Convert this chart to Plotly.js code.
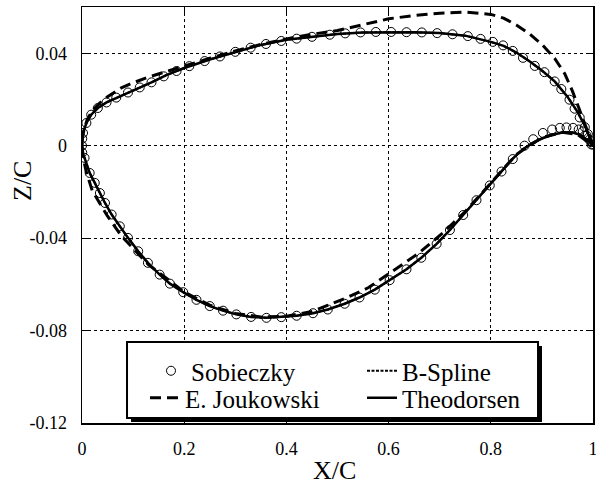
<!DOCTYPE html>
<html><head><meta charset="utf-8">
<script src="https://cdn.plot.ly/plotly-3.0.1.min.js"></script>
<style>html,body{margin:0;padding:0;background:#fff}#chart{width:596px;height:485px}</style>
</head><body><div id="chart"></div><script>
// Theodorsen (solid)
var theoUpperX = [0, 0.0005, 0.002, 0.0086, 0.018, 0.031, 0.048, 0.067, 0.09, 0.113, 0.136, 0.165, 0.2, 0.25, 0.3, 0.35, 0.4, 0.45, 0.5, 0.55, 0.6, 0.65, 0.7, 0.75, 0.8, 0.825, 0.85, 0.875, 0.9, 0.925, 0.95, 0.97, 0.985, 0.995, 1.0];
var theoUpperZ = [0, 0.003, 0.0055, 0.0098, 0.0134, 0.0163, 0.0187, 0.0208, 0.023, 0.0252, 0.0274, 0.0305, 0.0336, 0.0373, 0.0406, 0.0436, 0.0458, 0.0471, 0.0483, 0.049, 0.0492, 0.0491, 0.0487, 0.0476, 0.0449, 0.0432, 0.0403, 0.0366, 0.0325, 0.0278, 0.0212, 0.0145, 0.0082, 0.003, 0.0];
var theoLowerX = [0, 0.0005, 0.005, 0.015, 0.025, 0.035, 0.045, 0.058, 0.074, 0.09, 0.11, 0.129, 0.152, 0.172, 0.198, 0.224, 0.25, 0.276, 0.302, 0.331, 0.361, 0.39, 0.42, 0.452, 0.481, 0.514, 0.543, 0.573, 0.602, 0.635, 0.664, 0.694, 0.72, 0.746, 0.772, 0.798, 0.821, 0.843, 0.863, 0.883, 0.9, 0.92, 0.94, 0.96, 0.975, 0.99, 1.0];
var theoLowerZ = [0, -0.003, -0.0053, -0.0118, -0.0161, -0.0205, -0.0248, -0.0298, -0.0349, -0.0399, -0.0457, -0.0507, -0.0558, -0.0597, -0.0634, -0.0667, -0.0694, -0.0714, -0.073, -0.0741, -0.0745, -0.0742, -0.0736, -0.0725, -0.0709, -0.0684, -0.0657, -0.0623, -0.0582, -0.0535, -0.0485, -0.0425, -0.0365, -0.03, -0.0236, -0.0172, -0.0114, -0.0056, -0.0015, 0.0013, 0.0031, 0.0047, 0.0057, 0.0057, 0.0047, 0.0022, 0];

// B-Spline (dotted) – coincides with Theodorsen
var bsplUpperX = theoUpperX, bsplUpperZ = theoUpperZ;
var bsplLowerX = theoLowerX, bsplLowerZ = theoLowerZ;

// Sobieczky (circles)
var sobUpperX = [0, 0.0005, 0.002, 0.0086, 0.018, 0.031, 0.048, 0.067, 0.09, 0.113, 0.136, 0.16, 0.185, 0.21, 0.24, 0.27, 0.3, 0.33, 0.36, 0.39, 0.42, 0.45, 0.485, 0.515, 0.545, 0.575, 0.605, 0.635, 0.665, 0.695, 0.725, 0.755, 0.78, 0.804, 0.824, 0.843, 0.863, 0.886, 0.905, 0.925, 0.938, 0.954, 0.964, 0.974, 0.984, 0.99, 0.997, 1.0];
var sobUpperZ = [0, 0.003, 0.0055, 0.0098, 0.0134, 0.0163, 0.0187, 0.0208, 0.023, 0.0252, 0.0274, 0.03, 0.0323, 0.0344, 0.0366, 0.0386, 0.0406, 0.0424, 0.044, 0.0453, 0.0463, 0.0471, 0.048, 0.0486, 0.049, 0.0492, 0.0492, 0.0491, 0.049, 0.0487, 0.0482, 0.0474, 0.0462, 0.0449, 0.0434, 0.041, 0.038, 0.0345, 0.0318, 0.0278, 0.0245, 0.0199, 0.016, 0.0122, 0.008, 0.005, 0.0015, 0.0005];
var sobLowerX = [0.0005, 0.005, 0.015, 0.025, 0.035, 0.045, 0.058, 0.074, 0.09, 0.11, 0.129, 0.152, 0.172, 0.198, 0.224, 0.25, 0.276, 0.302, 0.331, 0.361, 0.39, 0.42, 0.452, 0.481, 0.514, 0.543, 0.573, 0.602, 0.635, 0.664, 0.694, 0.72, 0.746, 0.772, 0.798, 0.821, 0.843, 0.866, 0.883, 0.902, 0.92, 0.935, 0.948, 0.961, 0.972, 0.98, 0.987, 0.993, 0.997];
var sobLowerZ = [-0.003, -0.0053, -0.0118, -0.0161, -0.0205, -0.0248, -0.0298, -0.0349, -0.0399, -0.0457, -0.0507, -0.0558, -0.0597, -0.0634, -0.0667, -0.0694, -0.0714, -0.073, -0.0741, -0.0745, -0.0742, -0.0736, -0.0725, -0.0709, -0.0684, -0.0657, -0.0623, -0.0582, -0.0535, -0.0485, -0.0425, -0.0365, -0.03, -0.0236, -0.0172, -0.0112, -0.0058, 0.0, 0.0028, 0.0055, 0.007, 0.0077, 0.0079, 0.0077, 0.007, 0.0062, 0.0045, 0.0026, 0.0005];

// E. Joukowski (dashed)
var joukUpperX = [0, 0.001, 0.004, 0.01, 0.02, 0.035, 0.05, 0.077, 0.1, 0.13, 0.165, 0.2, 0.25, 0.3, 0.35, 0.4, 0.45, 0.5, 0.55, 0.6, 0.65, 0.7, 0.75, 0.8, 0.825, 0.85, 0.875, 0.9, 0.925, 0.945, 0.96, 0.975, 0.99, 1.0];
var joukUpperZ = [0, 0.0035, 0.007, 0.0112, 0.0152, 0.0185, 0.0212, 0.025, 0.0272, 0.0297, 0.0322, 0.0345, 0.0378, 0.041, 0.0438, 0.0462, 0.0482, 0.0498, 0.0524, 0.0549, 0.0563, 0.0573, 0.0578, 0.0568, 0.0552, 0.0522, 0.0485, 0.0438, 0.0378, 0.031, 0.0235, 0.015, 0.006, 0];
var joukLowerX = [0, 0.001, 0.003, 0.008, 0.02, 0.035, 0.05, 0.077, 0.1, 0.13, 0.16, 0.2, 0.25, 0.3, 0.35, 0.4, 0.45, 0.478, 0.52, 0.56, 0.615, 0.658, 0.706, 0.75, 0.8, 0.85, 0.9, 0.94, 0.97, 1.0];
var joukLowerZ = [0, -0.003, -0.006, -0.011, -0.0195, -0.025, -0.0305, -0.039, -0.0445, -0.0515, -0.0565, -0.0633, -0.069, -0.0726, -0.0741, -0.0738, -0.0718, -0.0692, -0.0656, -0.0615, -0.0533, -0.0467, -0.0378, -0.0285, -0.0162, -0.0038, 0.0035, 0.0058, 0.0048, 0];

var xTickVals = [0, 0.2, 0.4, 0.6, 0.8, 1];
var xTickText = ['0', '0.2', '0.4', '0.6', '0.8', '1'];
var yTickVals = [-0.12, -0.08, -0.04, 0, 0.04];
var yTickText = ['-0.12', '-0.08', '-0.04', '0', '0.04'];

function loop(ux, uz, lx, lz) {
  return {
    x: ux.slice().reverse().concat(lx.slice(1)),
    y: uz.slice().reverse().concat(lz.slice(1))
  };
}
var sob = loop(sobUpperX, sobUpperZ, [0].concat(sobLowerX), [0].concat(sobLowerZ));
var theo = loop(theoUpperX, theoUpperZ, theoLowerX, theoLowerZ);
var bspl = loop(bsplUpperX, bsplUpperZ, bsplLowerX, bsplLowerZ);
var jouk = loop(joukUpperX, joukUpperZ, joukLowerX, joukLowerZ);

var FONT = 'Liberation Serif, Times New Roman, serif';

var traces = [
  {name: 'Sobieczky', legend: 'legend', x: sob.x, y: sob.y, mode: 'markers', type: 'scatter',
   marker: {symbol: 'circle-open', size: 9, color: '#000', line: {width: 1, color: '#000'}}},
  {name: 'B-Spline', legend: 'legend', x: bspl.x, y: bspl.y, mode: 'lines', type: 'scatter',
   line: {color: '#000', width: 2, dash: '3px,1.5px'}},
  {name: 'E. Joukowski', legend: 'legend2', x: jouk.x, y: jouk.y, mode: 'lines', type: 'scatter',
   line: {color: '#000', width: 3, dash: '11px,6px'}},
  {name: 'Theodorsen', legend: 'legend2', x: theo.x, y: theo.y, mode: 'lines', type: 'scatter',
   line: {color: '#000', width: 2.5}}
];

var axisCommon = {
  showline: true, linecolor: '#000', linewidth: 1.5, mirror: 'ticks',
  ticks: 'inside', ticklen: 7, tickwidth: 1, tickcolor: '#000',
  showgrid: true, gridcolor: '#000', gridwidth: 1, griddash: '3px,3px',
  zeroline: false, automargin: false, ticklabeloverflow: 'allow',
  tickfont: {family: FONT, size: 18, color: '#000'},
  tickmode: 'array'
};

var legendCommon = {
  orientation: 'h', xanchor: 'left', yanchor: 'middle',
  bgcolor: 'rgba(0,0,0,0)', borderwidth: 0,
  font: {family: FONT, size: 25, color: '#000'},
  entrywidthmode: 'pixels', tracegroupgap: 0
};

var layout = {
  width: 596, height: 485,
  margin: {l: 82, r: 3, t: 7, b: 62, autoexpand: false},
  paper_bgcolor: '#fff', plot_bgcolor: '#fff',
  font: {family: FONT, color: '#000'},
  xaxis: Object.assign({}, axisCommon, {range: [0, 1], tickvals: xTickVals, ticktext: xTickText, ticklabelstandoff: 9}),
  yaxis: Object.assign({}, axisCommon, {range: [-0.12, 0.06], tickvals: yTickVals, ticktext: yTickText, ticklabelstandoff: 10}),
  showlegend: true,
  legend: Object.assign({}, legendCommon, {x: (151 - 82) / 511, y: (423 - 371) / 416, entrywidth: 166}),
  legend2: Object.assign({}, legendCommon, {x: (145 - 82) / 511, y: (423 - 398) / 416, entrywidth: 172}),
  shapes: [
    {type: 'rect', xref: 'paper', yref: 'paper', x0: 0.0959, x1: 0.9002, y0: 0.0024, y1: 0.185,
     fillcolor: '#000', line: {width: 0}, layer: 'above'},
    {type: 'rect', xref: 'paper', yref: 'paper', x0: 0.0881, x1: 0.8924, y0: 0.012, y1: 0.1947,
     fillcolor: '#fff', line: {width: 2, color: '#000'}, layer: 'above'}
  ],
  annotations: [
    {text: 'X/C', xref: 'paper', yref: 'paper', x: (334 - 82) / 511, y: -(470 - 423) / 416,
     xanchor: 'center', yanchor: 'middle', showarrow: false, font: {family: FONT, size: 26, color: '#000'}},
    {text: 'Z/C', xref: 'paper', yref: 'paper', x: -(82 - 23) / 511, y: (423 - 181) / 416, textangle: -90,
     xanchor: 'center', yanchor: 'middle', showarrow: false, font: {family: FONT, size: 26, color: '#000'}}
  ]
};

Plotly.newPlot('chart', traces, layout, {displayModeBar: false, staticPlot: true});
</script></body></html>
